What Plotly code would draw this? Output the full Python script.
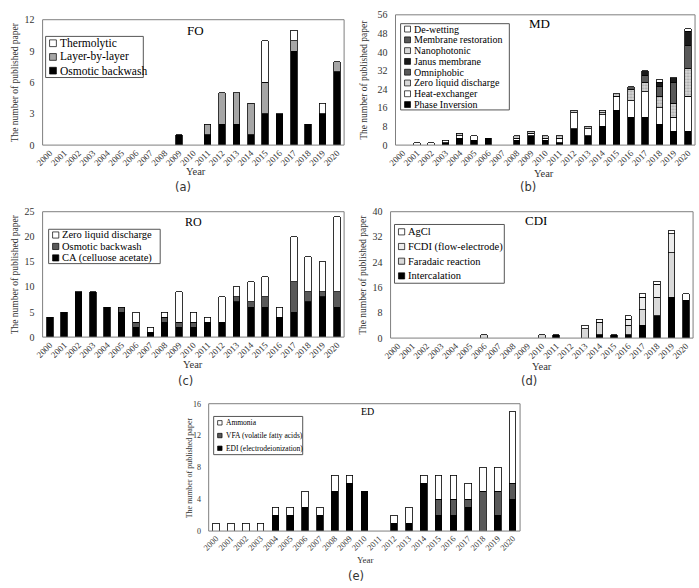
import plotly.graph_objects as go

W, H = 699, 588
years = [str(y) for y in range(2000, 2021)]

# ---------------- FO ----------------
fo_osmotic = [0,0,0,0,0,0,0,0,0,1,0,1,2,2,1,3,3,9,2,3,7]
fo_lbl     = [0,0,0,0,0,0,0,0,0,0,0,1,3,3,3,3,0,1,0,0,1]
fo_thermo  = [0,0,0,0,0,0,0,0,0,0,0,0,0,0,0,4,0,1,0,1,0]

# ---------------- MD ----------------
md_phase   = [0,0,0,1,3,2,3,0,2,4,2,1,7,4,8,15,12,12,9,6,6]
md_heat    = [0,1,1,1,1,2,0,0,1,1,1,2,7,3,5,6,7,11,7,6,15]
md_zld     = [0,0,0,0,1,0,0,0,1,1,1,1,1,1,1,1,5,4,5,6,12]
md_omni    = [0,0,0,0,0,0,0,0,0,0,0,0,0,0,0,0,1,3,4,9,10]
md_janus   = [0,0,0,0,0,0,0,0,0,0,0,0,0,0,0,0,0,2,2,2,6]
md_nano    = [0,0,0,0,0,0,0,0,0,0,0,0,0,0,1,0,0,0,0,0,0]
md_restor  = [0,0,0,0,0,0,0,0,0,0,0,0,0,0,0,0,0,0,0,0,0]
md_dewet   = [0,0,0,0,0,0,0,0,0,0,0,0,0,0,0,0,0,0,1,0,1]

# ---------------- RO ----------------
ro_ca      = [4,5,9,9,6,5,2,1,3,2,2,3,3,7,6,6,4,5,7,8,6]
ro_osmotic = [0,0,0,0,0,1,1,0,1,1,1,0,0,1,1,2,0,6,2,1,3]
ro_zld     = [0,0,0,0,0,0,2,1,1,6,2,1,5,2,4,4,2,9,7,6,15]

# ---------------- CDI ----------------
cdi_inter  = [0,0,0,0,0,0,0,0,0,0,0,1,0,0,1,1,1,4,7,13,12]
cdi_farad  = [0,0,0,0,0,0,1,0,0,0,1,0,0,3,4,0,3,5,6,14,0]
cdi_fcdi   = [0,0,0,0,0,0,0,0,0,0,0,0,0,0,0,0,2,4,4,6,0]
cdi_agcl   = [0,0,0,0,0,0,0,0,0,0,0,0,0,1,1,0,1,1,1,1,2]

# ---------------- ED ----------------
ed_edi     = [0,0,0,0,2,2,3,2,5,6,5,0,1,1,6,2,2,3,0,2,4]
ed_vfa     = [0,0,0,0,0,0,0,0,0,0,0,0,0,0,0,2,2,1,5,3,2]
ed_amm     = [1,1,1,1,1,1,2,1,2,1,0,0,1,2,1,3,3,2,3,3,9]

BLACK, DARK, MID, LIGHT, WHITE = "#000000", "#595959", "#a6a6a6", "#d9d9d9", "#ffffff"
SERIF = "Liberation Serif"

def px_dom(x0, x1, y0, y1):
    return [x0 / W, x1 / W], [1 - y1 / H, 1 - y0 / H]

panels = [
    dict(s="", box=(35, 340, 14, 142), title="FO", ymax=12, dtick=3,
         series=[("Osmotic backwash", fo_osmotic, BLACK, ""),
                 ("Layer-by-layer", fo_lbl, MID, ""),
                 ("Thermolytic", fo_thermo, WHITE, "")],
         leg=(0.01, 0.334, 0.867, 0.539), lfs=11.5, tpos=(0.508, 0.91), tfs=13, tickfs=10, xtfs=9, ytfs=9.5,
         ytx=7, year=(190, 169), lab=("(a)", 177, 185)),
    dict(s="2", box=(392, 695, 9, 142), title="MD", ymax=56, dtick=8,
         series=[("Phase Inversion", md_phase, BLACK, ""),
                 ("Heat-exchanger", md_heat, WHITE, ""),
                 ("Zero liquid discharge", md_zld, LIGHT, "."),
                 ("Omniphobic", md_omni, DARK, ""),
                 ("Janus membrane", md_janus, "#1a1a1a", ""),
                 ("Nanophotonic", md_nano, LIGHT, ""),
                 ("Membrane restoration", md_restor, DARK, "x"),
                 ("De-wetting", md_dewet, WHITE, "")],
         leg=(0.017, 0.38, 0.932, 0.27), lfs=10, tpos=(0.48, 0.93), tfs=13, tickfs=10, xtfs=9, ytfs=9.5,
         ytx=360, year=(542, 171), lab=("(b)", 526, 185)),
    dict(s="3", box=(35, 340, 210, 338), title="RO", ymax=25, dtick=5,
         series=[("CA (celluose acetate)", ro_ca, BLACK, ""),
                 ("Osmotic backwash", ro_osmotic, DARK, ""),
                 ("Zero liquid discharge", ro_zld, WHITE, "")],
         leg=(0.02, 0.39, 0.86, 0.586), lfs=10.5, tpos=(0.5, 0.92), tfs=12, tickfs=10, xtfs=9, ytfs=9.5,
         ytx=7, year=(187, 366), lab=("(c)", 180, 383)),
    dict(s="4", box=(387, 693, 210, 339), title="CDI", ymax=40, dtick=8,
         series=[("Intercalation", cdi_inter, BLACK, ""),
                 ("Faradaic reaction", cdi_farad, LIGHT, ""),
                 ("FCDI (flow-electrode)", cdi_fcdi, "#ececec", ""),
                 ("AgCl", cdi_agcl, WHITE, "")],
         leg=(0.013, 0.376, 0.899, 0.434), lfs=10.5, tpos=(0.48, 0.93), tfs=13, tickfs=10, xtfs=9, ytfs=9.5,
         ytx=359, year=(540, 368), lab=("(d)", 527, 383)),
    dict(s="5", box=(203, 518, 406, 536), title="ED", ymax=16, dtick=4,
         series=[("EDI (electrodeionization)", ed_edi, BLACK, ""),
                 ("VFA (volatile fatty acids)", ed_vfa, DARK, ""),
                 ("Ammonia", ed_amm, WHITE, "")],
         leg=(0.016, 0.302, 0.9, 0.6), lfs=7.5, tpos=(0.51, 0.94), tfs=10, tickfs=8, xtfs=8.5, ytfs=8,
         ytx=183, year=(362, 566), lab=("(e)", 352, 582)),
]

fig = go.Figure()
shapes, annotations = [], []

def note(**kw):
    kw.setdefault("showarrow", False)
    kw.setdefault("xanchor", "center")
    kw.setdefault("yanchor", "middle")
    annotations.append(kw)

for p in panels:
    s = p["s"]
    xd, yd = px_dom(*p["box"])
    xa, ya = "x" + s, "y" + s
    for name, vals, col, pat in p["series"]:
        fig.add_trace(go.Bar(
            x=years, y=[v if v else None for v in vals], name=name,
            xaxis=xa, yaxis=ya, showlegend=False,
            marker=dict(color=col, line=dict(color="#000000", width=0.8),
                        pattern=dict(shape=pat, fgcolor="#666666", bgcolor=col, size=3, solidity=0.4) if pat else None),
        ))
    fig.update_layout(**{
        "xaxis" + s: dict(domain=xd, anchor=ya, type="category", tickangle=-45,
                          tickfont=dict(family=SERIF, size=p["xtfs"], color="#333"),
                          showgrid=False, zeroline=False),
        "yaxis" + s: dict(domain=yd, anchor=xa, range=[0, p["ymax"]], dtick=p["dtick"],
                          tickfont=dict(family=SERIF, size=p["tickfs"], color="#333"),
                          ticks="outside", ticklen=5, tickcolor="rgba(0,0,0,0)",
                          showgrid=False, zeroline=False),
    })
    xr, yr = xa + " domain", ya + " domain"
    # panel frame
    shapes.append(dict(type="rect", xref=xr, yref=yr, x0=0, x1=1, y0=0, y1=1,
                       line=dict(color="#7f7f7f", width=1), layer="above"))
    note(xref=xr, yref=yr, x=p["tpos"][0], y=p["tpos"][1], text=p["title"],
         font=dict(family=SERIF, size=p["tfs"], color="#000"))
    x0, x1, yt, yb = p["box"]
    note(xref="paper", yref="paper", x=p["ytx"] / W, y=1 - (yt + yb) / 2 / H,
         text="The number of published paper", textangle=-90,
         font=dict(family=SERIF, size=p["ytfs"], color="#333"))
    note(xref="paper", yref="paper", x=p["year"][0] / W, y=1 - p["year"][1] / H, text="Year",
         font=dict(family=SERIF, size=p["ytfs"] + 1, color="#333"))
    lab = p["lab"]
    note(xref="paper", yref="paper", x=lab[1] / W, y=1 - lab[2] / H, text=lab[0],
         font=dict(family="DejaVu Sans", size=11.5, color="#333"))
    # legend drawn from the series names/colours
    lx0, lx1, ly1, ly0 = p["leg"]
    shapes.append(dict(type="rect", xref=xr, yref=yr, x0=lx0, x1=lx1, y0=ly0, y1=ly1,
                       line=dict(color="#555", width=1), fillcolor="white", layer="above"))
    pw = (x1 - x0)
    ph = (yb - yt)
    items = list(reversed(p["series"]))
    n = len(items)
    step = (ly1 - ly0) / n
    msz = p["lfs"] * 0.6
    for i, (name, vals, col, pat) in enumerate(items):
        cy = ly1 - step * (i + 0.5)
        mx0 = lx0 + 4 / pw
        shapes.append(dict(type="rect", xref=xr, yref=yr, x0=mx0, x1=mx0 + msz / pw,
                           y0=cy - msz / 2 / ph, y1=cy + msz / 2 / ph,
                           line=dict(color="#000", width=0.7), fillcolor=col, layer="above"))
        note(xref=xr, yref=yr, x=mx0 + (msz + 1.5) / pw, y=cy, text=name, xanchor="left",
             font=dict(family=SERIF, size=p["lfs"], color="#000"))

fig.update_layout(
    width=W, height=H, margin=dict(l=0, r=0, t=0, b=0),
    paper_bgcolor="white", plot_bgcolor="white",
    barmode="stack", bargap=0.55, showlegend=False,
    shapes=shapes, annotations=annotations,
)

fig.write_html("out.html")
